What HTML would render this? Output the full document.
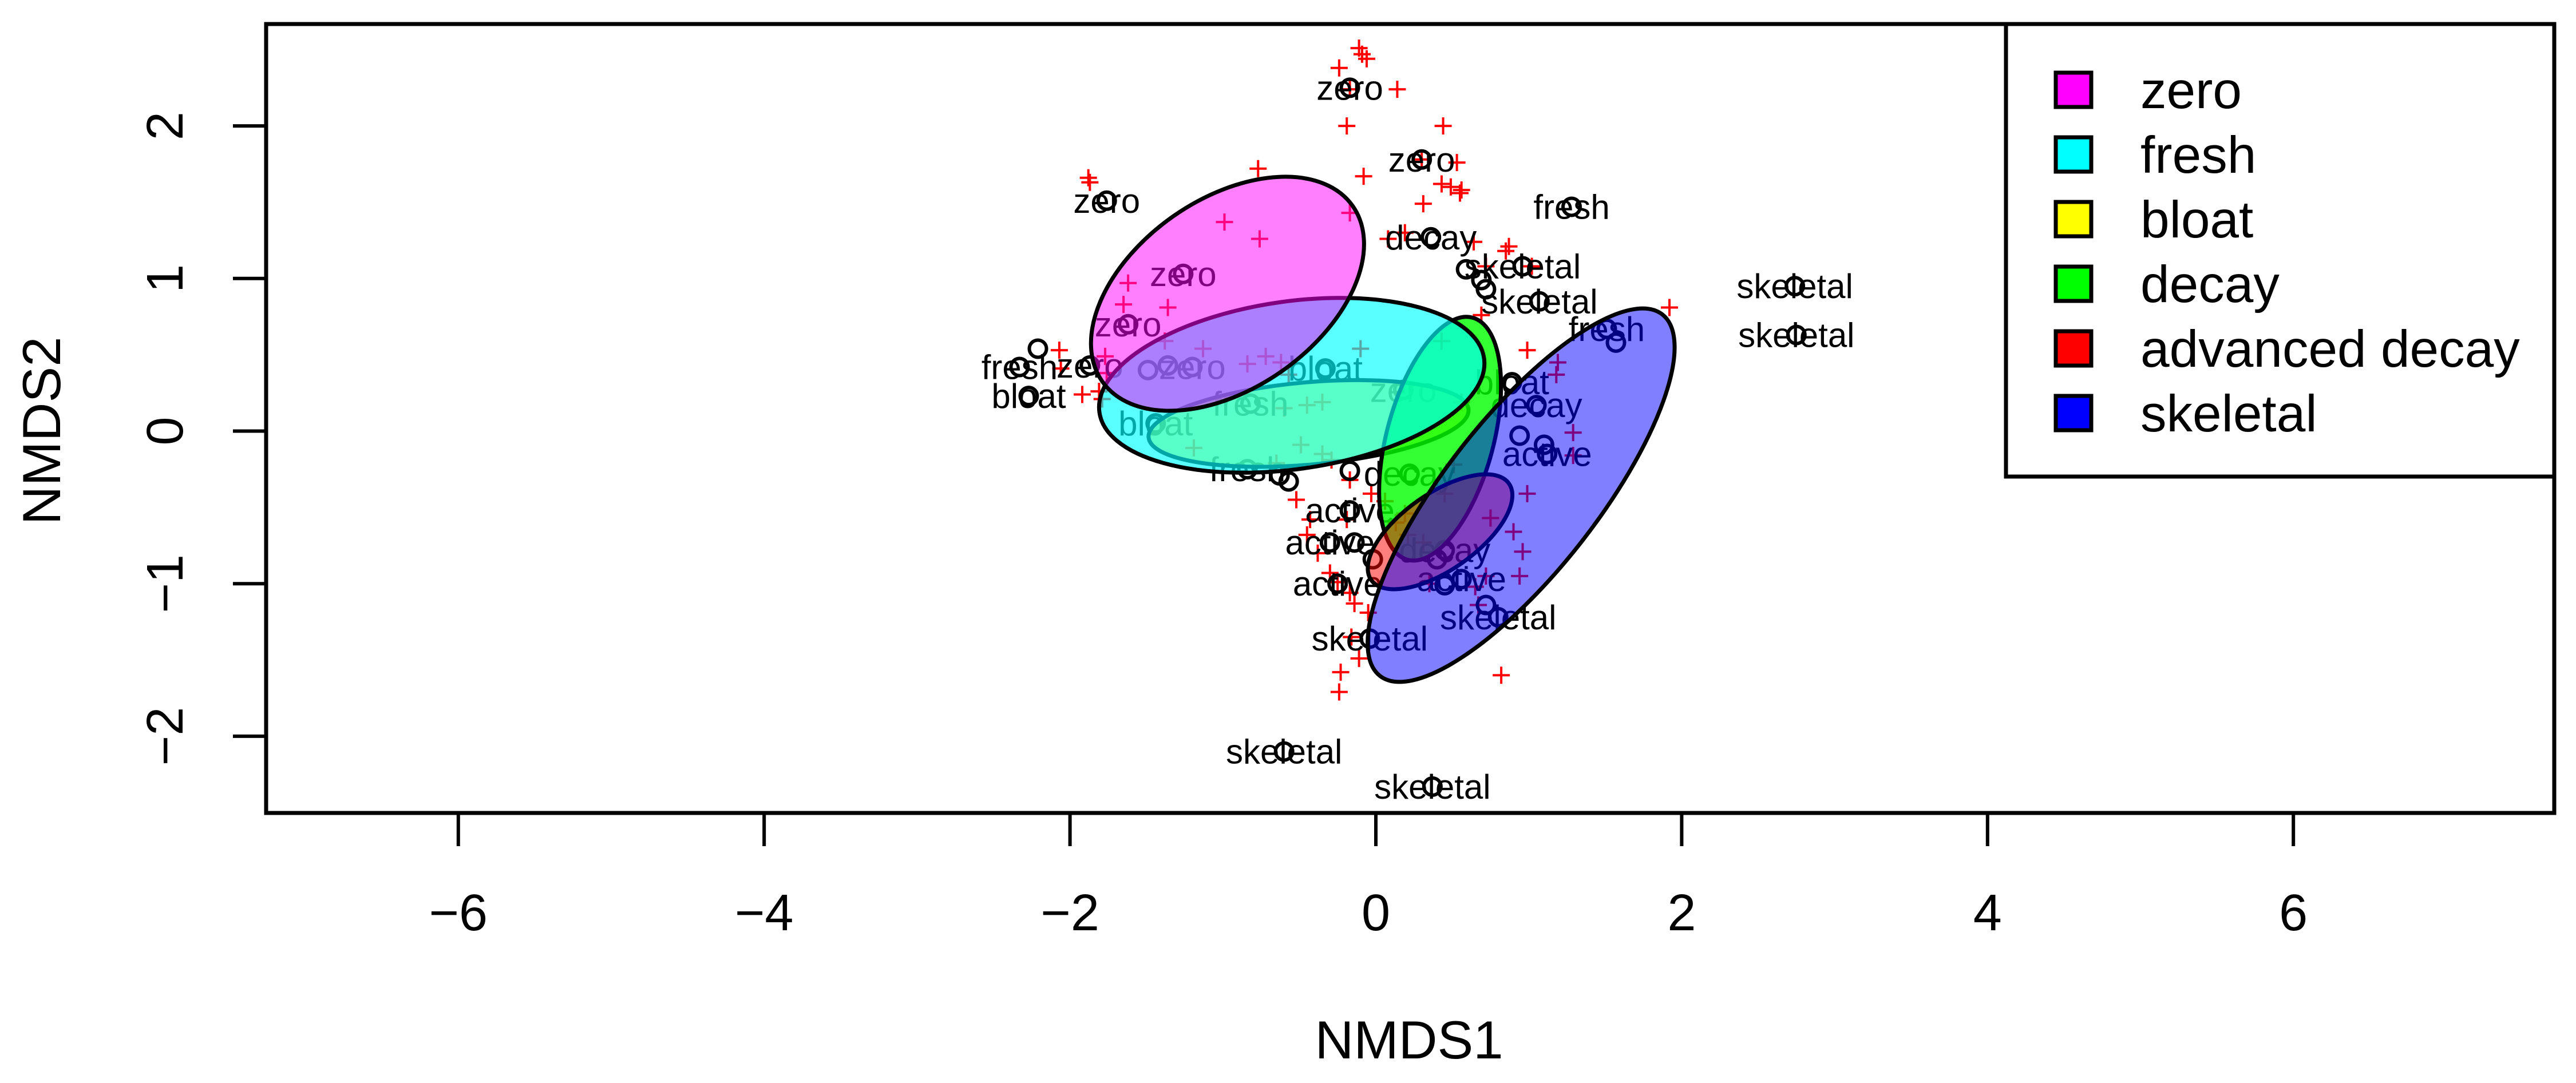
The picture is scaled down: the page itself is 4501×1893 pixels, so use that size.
<!DOCTYPE html>
<html><head><meta charset="utf-8"><style>
html,body{margin:0;padding:0;background:#fff;}
svg{display:block;font-family:"Liberation Sans",Arial,sans-serif;}
</style></head><body>
<svg id="chart" width="4501" height="1893" viewBox="0 0 4501 1893" xmlns="http://www.w3.org/2000/svg">
<g id="marks"></g>
<g id="axes"></g>
<g id="legend"></g>
</svg>
<script>
// species scores (red crosses)
const speciesX = [-0.11,-0.09,-0.06,-0.24,-0.17,0.14,-0.19,0.44,0.30,0.53,-0.08,0.43,0.31,0.49,0.55,0.56,-0.17,0.19,0.08,-1.88,-1.87,-0.77,-0.99,-0.76,0.64,0.87,0.85,1.02,0.72,-1.62,-1.65,-1.36,-1.38,-2.07,-1.77,-1.81,-1.79,-1.76,-2.06,-1.92,-1.13,-0.84,-0.72,-0.62,-0.57,-0.10,0.43,0.69,0.99,1.19,1.18,1.92,-0.45,-0.60,-0.35,-1.19,-0.49,-0.29,-0.17,-0.35,-0.65,0.06,0.19,0.13,-0.03,-0.19,-0.52,-0.45,-0.43,-0.38,-0.30,-0.25,-0.17,-0.14,-0.05,0.21,0.31,0.90,0.75,0.96,0.94,1.29,1.29,0.65,0.72,-0.24,-0.23,-0.11,-0.16,0.82,0.67,0.45,0.51,0.56,0.99,0.35];
const speciesY = [2.51,2.47,2.44,2.38,2.24,2.24,2.00,2.00,1.78,1.76,1.67,1.62,1.49,1.60,1.56,1.58,1.43,1.30,1.26,1.66,1.63,1.72,1.37,1.26,1.24,1.21,1.18,1.08,1.08,0.97,0.83,0.81,0.59,0.53,0.49,0.26,0.21,0.38,0.41,0.24,0.54,0.44,0.49,0.45,0.37,0.54,0.59,0.76,0.53,0.45,0.37,0.81,0.17,0.15,0.19,-0.11,-0.09,-0.19,-0.32,-0.15,-0.21,-0.46,-0.54,-0.60,-0.41,-0.58,-0.45,-0.68,-0.58,-0.80,-0.93,-0.99,-1.06,-1.13,-1.19,-0.68,-0.73,-0.66,-0.57,-0.79,-0.95,-0.01,-0.16,-1.02,-0.95,-1.71,-1.58,-1.49,-1.35,-1.60,-1.14,-0.41,-0.22,0.19,-0.41,-1.00];
// site scores (circles + labels)
const siteX = [-0.17,0.30,-1.76,-1.26,-1.62,-1.87,-2.33,-2.27,-1.20,-0.33,-0.82,-1.44,0.36,0.96,1.07,1.28,1.51,2.74,2.75,0.18,0.89,1.05,1.12,0.22,-0.17,-0.30,-0.25,0.45,0.56,0.80,-0.04,-0.60,0.37,-0.84,0.59,0.69,0.72,1.57,0.94,1.10,-0.57,-0.63,-0.17,-0.14,-0.02,0.40,0.45,0.72,-1.49,-1.36,-2.21];
const siteY = [2.25,1.78,1.51,1.03,0.70,0.43,0.42,0.23,0.42,0.41,0.18,0.05,1.27,1.08,0.85,1.47,0.67,0.95,0.63,0.27,0.32,0.17,-0.15,-0.28,-0.52,-0.73,-1.00,-0.78,-0.97,-1.22,-1.36,-2.10,-2.33,-0.25,1.06,0.99,0.93,0.58,-0.03,-0.09,-0.33,-0.29,-0.26,-0.73,-0.84,-0.84,-1.01,-1.14,0.40,0.43,0.54];
const siteLabels = ["zero","zero","zero","zero","zero","zero","fresh","bloat","zero","bloat","fresh","bloat","decay","skeletal","skeletal","fresh","fresh","skeletal","skeletal","zero","bloat","decay","active","decay","active","active","active","decay","active","skeletal","skeletal","skeletal","skeletal","fresh","","","","","","","","","","","","","","","","",""];
// group ellipses
const groups = ["zero","fresh","bloat","decay","advanced decay","skeletal"];
const groupColors = ["#ff00ff","#00ffff","#ffff00","#00ff00","#ff0000","#0000ff"];
const ellCX = [-0.97,-0.55,-0.44,0.42,0.42,0.95];
const ellCY = [0.90,0.30,0.05,-0.05,-0.66,-0.42];
const ellA = [1.0,1.27,1.05,0.82,0.55,1.5];
const ellB = [0.62,0.55,0.27,0.35,0.25,0.5];
const ellAng = [35,8,5,75,35,52];
const xTicks = [-6,-4,-2,0,2,4,6];
const yTicks = [-2,-1,0,1,2];

const NS="http://www.w3.org/2000/svg";
const X0=2404, XU=267.2, Y0=753.5, YU=266.7;
const L=465,R=4463,T=42,B=1421;
function sx(v){return X0+v*XU;}
function sy(v){return Y0-v*YU;}
function mk(tag,attrs,parent){const e=document.createElementNS(NS,tag);for(const k in attrs)e.setAttribute(k,attrs[k]);parent.appendChild(e);return e;}
const marks=document.getElementById('marks');
const axes=document.getElementById('axes');
const legend=document.getElementById('legend');

for(let i=0;i<speciesX.length;i++){
  const cx=sx(speciesX[i]), cy=sy(speciesY[i]), s=15;
  const p=mk('path',{d:`M${cx-s} ${cy}H${cx+s}M${cx} ${cy-s}V${cy+s}`,stroke:'#ff0000','stroke-width':4,fill:'none'},marks);
  
  
}
for(let i=0;i<siteX.length;i++){
  const cx=sx(siteX[i]), cy=sy(siteY[i]);
  const c=mk('circle',{cx:cx,cy:cy,r:15,fill:'none',stroke:'#000','stroke-width':6},marks);
  
  
  if(siteLabels[i]){
    const t=mk('text',{x:cx,y:cy+21,'text-anchor':'middle','font-size':60,fill:'#000'},marks);
    t.textContent=siteLabels[i];
    
    
  }
}
const ops=[0.5,0.65,0.6,0.8,0.5,0.5];
const order=[2,3,1,0,4,5];
for(const i of order){
  const cx=sx(ellCX[i]), cy=sy(ellCY[i]);
  const e=mk('ellipse',{cx:cx,cy:cy,rx:ellA[i]*XU,ry:ellB[i]*YU,transform:`rotate(${-ellAng[i]} ${cx} ${cy})`,fill:groupColors[i],'fill-opacity':ops[i],stroke:'#000','stroke-width':7},marks);
  
  
}
const fr=mk('rect',{x:L,y:T,width:R-L,height:B-T,fill:'none',stroke:'#000','stroke-width':7},axes);


for(const v of xTicks){
  const tk=mk('line',{x1:sx(v),x2:sx(v),y1:B,y2:B+58,stroke:'#000','stroke-width':6},axes);
  
  
  const t=mk('text',{x:sx(v),y:1626,'text-anchor':'middle','font-size':90},axes);
  t.textContent=v<0?'\u2212'+(-v):String(v);
  
  
}
for(const v of yTicks){
  const tk=mk('line',{x1:L,x2:L-58,y1:sy(v),y2:sy(v),stroke:'#000','stroke-width':6},axes);
  
  
  const t=mk('text',{x:0,y:0,'text-anchor':'middle','font-size':90,transform:`translate(319 ${sy(v)}) rotate(-90)`},axes);
  t.textContent=v<0?'\u2212'+(-v):String(v);
  
  
}
const xt=mk('text',{x:2462,y:1850,'text-anchor':'middle','font-size':94},axes);
xt.textContent='NMDS1';


const yt=mk('text',{x:0,y:0,'text-anchor':'middle','font-size':94,transform:'translate(105 753) rotate(-90)'},axes);
yt.textContent='NMDS2';


const lb=mk('rect',{x:3505,y:42,width:958,height:791,fill:'#fff',stroke:'#000','stroke-width':7},legend);


for(let i=0;i<groups.length;i++){
  const cy=157+i*113;
  const sw=mk('rect',{x:3592,y:cy-30,width:62,height:60,fill:groupColors[i],stroke:'#000','stroke-width':7},legend);
  
  
  const t=mk('text',{x:3740,y:cy+32,'font-size':91},legend);
  t.textContent=groups[i];
  
  
}
</script>
</body></html>
